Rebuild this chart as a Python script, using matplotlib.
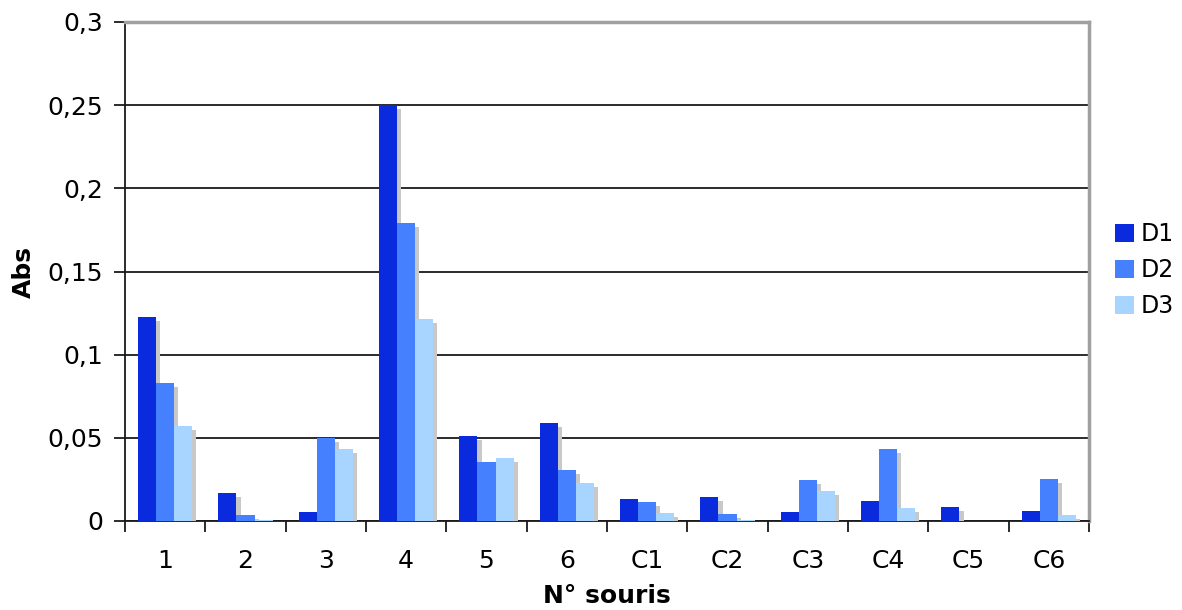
import numpy as np
import matplotlib
matplotlib.use('Agg')
import matplotlib.pyplot as plt
import matplotlib.patheffects as pe

# Data
categories = ['1', '2', '3', '4', '5', '6', 'C1', 'C2', 'C3', 'C4', 'C5', 'C6']
d1 = [0.1227, 0.0168, 0.0054, 0.2500, 0.0511, 0.0589, 0.0132, 0.0144, 0.0054, 0.0120, 0.0084, 0.0060]
d2 = [0.0830, 0.0036, 0.0500, 0.1790, 0.0355, 0.0307, 0.0114, 0.0042, 0.0247, 0.0433, 0.0000, 0.0253]
d3 = [0.0570, 0.0004, 0.0433, 0.1215, 0.0379, 0.0228, 0.0048, 0.0008, 0.0180, 0.0078, 0.0000, 0.0036]
series_names = ['D1', 'D2', 'D3']
colors = ['#0a2ade', '#4580ff', '#a8d5ff']

plt.rcParams['font.family'] = ['DejaVu Sans']
fs = 18

fig = plt.figure(figsize=(11.82, 6.10), dpi=100)
ax = fig.add_axes([125 / 1182, 1 - 521 / 610, (1089 - 125) / 1182, (521 - 22) / 610])

x = np.arange(len(categories))
w = 0.225
shadow = [pe.SimplePatchShadow(offset=(3, -3), shadow_rgbFace='#c8c8c8', alpha=1.0), pe.Normal()]

handles = []
for i, (vals, name, c) in enumerate(zip([d1, d2, d3], series_names, colors)):
    bars = ax.bar(x + (i - 1) * w, vals, width=w, color=c, label=name, zorder=3 + i * 0.1)
    for b in bars:
        b.set_path_effects(shadow)
    handles.append(bars)

ax.set_xlim(-0.5, len(categories) - 0.5)
ax.set_ylim(0, 0.3)
ax.set_yticks(np.arange(0, 0.31, 0.05))
ax.set_yticklabels(['0', '0,05', '0,1', '0,15', '0,2', '0,25', '0,3'])
ax.yaxis.grid(True, color='#1a1a1a', linewidth=1.3, zorder=1)
ax.set_axisbelow(True)

ax.set_xticks(x)
ax.set_xticklabels(categories)
ax.set_xticks(np.arange(-0.5, len(categories), 1), minor=True)
ax.tick_params(axis='x', which='major', length=0, labelsize=fs, pad=20, colors='#000000')
ax.tick_params(axis='x', which='minor', length=8, width=1.3, color='#1a1a1a', direction='out')
ax.tick_params(axis='y', length=8, width=1.3, color='#1a1a1a', labelsize=fs, pad=8)

for s in ['left', 'bottom']:
    ax.spines[s].set_color('#1a1a1a')
    ax.spines[s].set_linewidth(1.3)
for s in ['top', 'right']:
    ax.spines[s].set_color('#a0a0a0')
    ax.spines[s].set_linewidth(2.5)

ax.set_xlabel('N° souris', fontsize=fs, fontweight='bold', labelpad=8)
ax.set_ylabel('Abs', fontsize=fs, fontweight='bold', labelpad=8)

leg = fig.legend(handles=handles, labels=series_names, loc='center left',
                 bbox_to_anchor=(1108 / 1182, 1 - 270 / 610), frameon=False,
                 fontsize=17, handlelength=0.8, handleheight=0.8, borderpad=0.3,
                 handletextpad=0.3, labelspacing=0.5, borderaxespad=0)
for h in leg.legend_handles:
    h.set_path_effects([])

fig.savefig('out.png', dpi=100)
